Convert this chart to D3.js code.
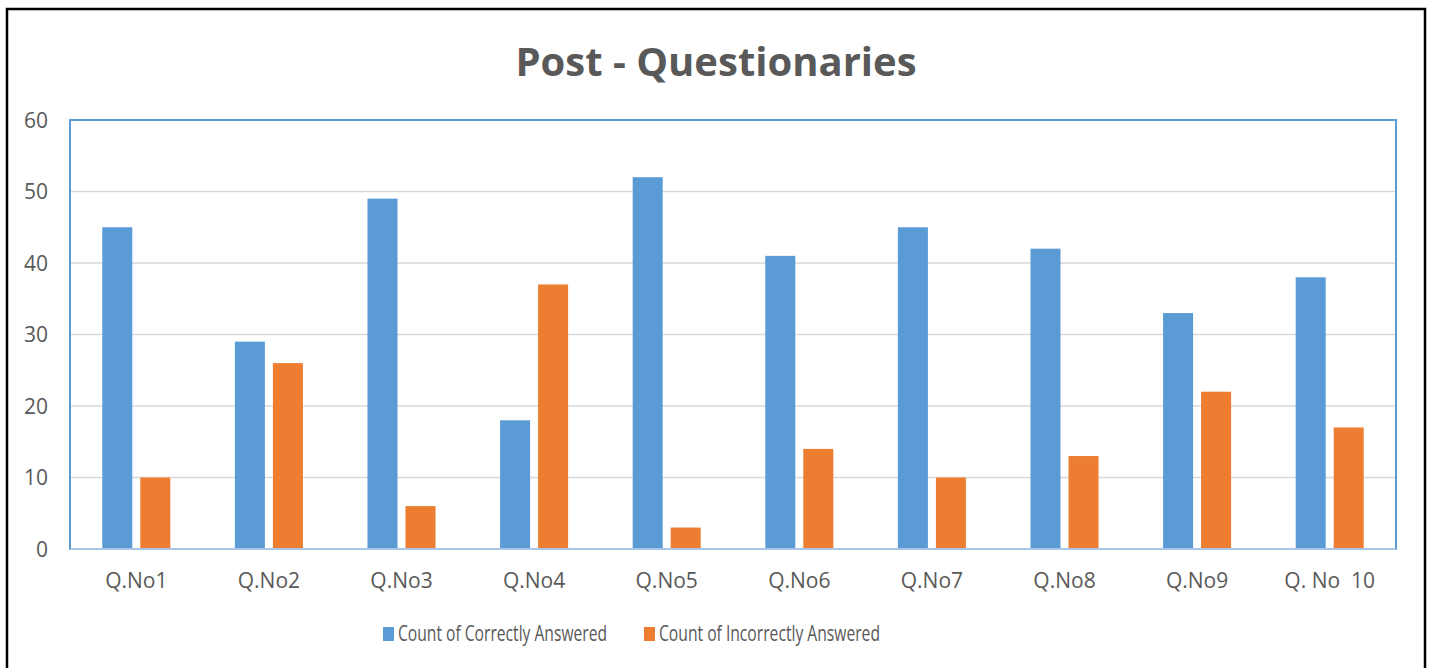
<!DOCTYPE html>
<html>
<head>
<meta charset="utf-8">
<script src="https://cdn.jsdelivr.net/npm/d3@7"></script>
<style>
  body { margin: 0; background: #fff; }
  svg text { font-family: "Open Sans", "Noto Sans", sans-serif; fill: #595959; }
</style>
</head>
<body>
<div id="chart"></div>
<script>
// data
var categories = ["Q.No1", "Q.No2", "Q.No3", "Q.No4", "Q.No5", "Q.No6", "Q.No7", "Q.No8", "Q.No9", "Q. No  10"];
var correct = [45, 29, 49, 18, 52, 41, 45, 42, 33, 38];
var incorrect = [10, 26, 6, 37, 3, 14, 10, 13, 22, 17];
var seriesNames = ["Count of Correctly Answered", "Count of Incorrectly Answered"];
var yTicks = [0, 10, 20, 30, 40, 50, 60];

var colors = ["#5b9bd5", "#ed7d31"];
var W = 1434, H = 668;
var plot = {left: 70, top: 120, right: 1396, bottom: 549};

var svg = d3.select("#chart").append("svg")
    .attr("width", W)
    .attr("height", H);

// outer frame
svg.append("rect")
    .attr("x", 7).attr("y", 9)
    .attr("width", 1418).attr("height", 680)
    .attr("fill", "none")
    .attr("stroke", "#000")
    .attr("stroke-width", 2.5);

svg.append("text")
    .attr("x", 716)
    .attr("y", 76)
    .attr("text-anchor", "middle")
    .style("font-size", "40px")
    .style("font-weight", "bold")
    .text("Post - Questionaries");

var x0 = d3.scaleBand()
    .domain(categories)
    .range([plot.left, plot.right])
    .paddingInner(0.487)
    .paddingOuter(0.2435);

var x1 = d3.scaleBand()
    .domain([0, 1])
    .range([0, x0.bandwidth()])
    .paddingInner(0.2105);

var y = d3.scaleLinear()
    .domain([0, 60])
    .range([plot.bottom, plot.top]);

// gridlines
svg.append("g")
  .selectAll("line")
  .data(yTicks.filter(function(d) { return d > 0 && d < 60; }))
  .enter().append("line")
    .attr("x1", plot.left).attr("x2", plot.right)
    .attr("y1", y).attr("y2", y)
    .attr("stroke", "#d9d9d9")
    .attr("stroke-width", 1.5);

// y labels
svg.append("g")
  .selectAll("text")
  .data(yTicks)
  .enter().append("text")
    .attr("x", 48)
    .attr("y", function(d) { return y(d) + 7.5; })
    .attr("text-anchor", "end")
    .style("font-size", "21px")
    .text(function(d) { return d; });

// bars
var groups = svg.append("g")
  .selectAll("g")
  .data(categories)
  .enter().append("g")
    .attr("transform", function(d) { return "translate(" + x0(d) + ",0)"; });

groups.selectAll("rect")
  .data(function(d, i) { return [correct[i], incorrect[i]]; })
  .enter().append("rect")
    .attr("x", function(d, j) { return x1(j); })
    .attr("y", function(d) { return y(d); })
    .attr("width", x1.bandwidth())
    .attr("height", function(d) { return y(0) - y(d); })
    .attr("fill", function(d, j) { return colors[j]; });

// x labels
svg.append("g")
  .selectAll("text")
  .data(categories)
  .enter().append("text")
    .attr("x", function(d) { return x0(d) + x0.bandwidth() / 2; })
    .attr("y", 588)
    .attr("text-anchor", "middle")
    .attr("xml:space", "preserve")
    .style("white-space", "pre")
    .style("font-size", "21px")
    .text(function(d) { return d; });

// plot border
svg.append("rect")
    .attr("x", plot.left).attr("y", plot.top)
    .attr("width", plot.right - plot.left)
    .attr("height", plot.bottom - plot.top)
    .attr("fill", "none")
    .attr("stroke", "#5b9bd5")
    .attr("stroke-width", 2);

svg.append("line")
    .attr("x1", plot.left).attr("x2", plot.right)
    .attr("y1", plot.bottom).attr("y2", plot.bottom)
    .attr("stroke", "#a9c8e8")
    .attr("stroke-width", 2);

// legend
var legendX = [383, 644];
var legendW = [209, 221];
var legend = svg.append("g")
  .selectAll("g")
  .data(seriesNames)
  .enter().append("g")
    .attr("transform", function(d, i) { return "translate(" + legendX[i] + ",627)"; });

legend.append("rect")
    .attr("width", 11).attr("height", 14)
    .attr("fill", function(d, i) { return colors[i]; });

legend.append("text")
    .attr("x", 15)
    .attr("y", 14)
    .attr("textLength", function(d, i) { return legendW[i]; })
    .attr("lengthAdjust", "spacingAndGlyphs")
    .style("font-size", "21px")
    .text(function(d) { return d; });
</script>
</body>
</html>
